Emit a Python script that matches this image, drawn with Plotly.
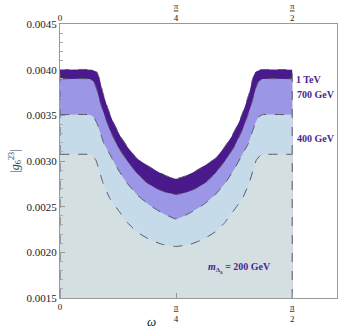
import numpy as np
import plotly.graph_objects as go

# boundary curves (omega in rad, |g6^23|)
omega_1tev = [0, 0.216, 0.249, 0.270, 0.290, 0.324, 0.357, 0.411, 0.465, 0.519, 0.587, 0.654, 0.721, 0.785,
              0.850, 0.917, 0.984, 1.052, 1.106, 1.160, 1.214, 1.247, 1.281, 1.301, 1.322, 1.355, 1.5708]
g_1tev = [0.00400, 0.00400, 0.003974, 0.003888, 0.003749, 0.003577, 0.003438, 0.003266, 0.003137, 0.003030,
          0.002955, 0.002890, 0.002837, 0.002805,
          0.002837, 0.002890, 0.002955, 0.003030, 0.003137, 0.003266, 0.003438, 0.003577, 0.003749, 0.003888,
          0.003974, 0.00400, 0.00400]

omega_700 = [0, 0.202, 0.229, 0.249, 0.276, 0.303, 0.337, 0.391, 0.452, 0.519, 0.587, 0.654, 0.721, 0.785,
             0.850, 0.917, 0.984, 1.052, 1.119, 1.180, 1.234, 1.268, 1.295, 1.322, 1.342, 1.369, 1.5708]
g_700 = [0.003899, 0.003899, 0.003867, 0.003781, 0.003620, 0.003491, 0.003341, 0.003159, 0.003009, 0.002869,
         0.002762, 0.002697, 0.002654, 0.002633,
         0.002654, 0.002697, 0.002762, 0.002869, 0.003009, 0.003159, 0.003341, 0.003491, 0.003620, 0.003781,
         0.003867, 0.003899, 0.003899]

omega_400 = [0, 0.202, 0.229, 0.249, 0.270, 0.297, 0.337, 0.391, 0.452, 0.526, 0.607, 0.694, 0.785,
             0.877, 0.964, 1.045, 1.119, 1.180, 1.234, 1.274, 1.301, 1.322, 1.342, 1.369, 1.5708]
g_400 = [0.003507, 0.003507, 0.003481, 0.003416, 0.003320, 0.003191, 0.003073, 0.002912, 0.002762, 0.002622,
         0.002515, 0.002429, 0.002365,
         0.002429, 0.002515, 0.002622, 0.002762, 0.002912, 0.003073, 0.003191, 0.003320, 0.003416, 0.003481,
         0.003507, 0.003507]

omega_200 = [0, 0.189, 0.216, 0.243, 0.263, 0.290, 0.337, 0.404, 0.458, 0.519, 0.607, 0.694, 0.785,
             0.877, 0.964, 1.052, 1.113, 1.167, 1.234, 1.281, 1.308, 1.328, 1.355, 1.382, 1.5708]
g_200 = [0.003073, 0.003073, 0.003062, 0.003009, 0.002912, 0.002762, 0.002590, 0.002440, 0.002322, 0.002225,
         0.002139, 0.002086, 0.002064,
         0.002086, 0.002139, 0.002225, 0.002322, 0.002440, 0.002590, 0.002762, 0.002912, 0.003009, 0.003062,
         0.003073, 0.003073]

y_ticks = [0.0015, 0.0020, 0.0025, 0.0030, 0.0035, 0.0040, 0.0045]
x_ticks = [0, np.pi / 4, np.pi / 2]
x_labels = ['0', '<u>π</u><br>4', '<u>π</u><br>2']

serif = 'Liberation Serif'
label_col = '#4b1f91'
edge = dict(color='#5a5a66', width=1, dash='dash')
smooth = dict(shape='spline', smoothing=0.3)

fig = go.Figure()

regions = [(omega_1tev, g_1tev, '#4a1a8c'),
           (omega_700, g_700, '#9c96e6'),
           (omega_400, g_400, '#c6dbe9'),
           (omega_200, g_200, '#d4dfe2')]
for om, g, col in regions:
    fig.add_trace(go.Scatter(x=om, y=g, mode='lines', fill='tozeroy', fillcolor=col,
                             line=dict(color=col, width=0, **smooth),
                             showlegend=False, hoverinfo='skip'))

# dashed boundaries
for om, g in [(omega_1tev, g_1tev), (omega_700, g_700), (omega_400, g_400), (omega_200, g_200)]:
    fig.add_trace(go.Scatter(x=om, y=g, mode='lines', line=dict(edge, **smooth),
                             showlegend=False, hoverinfo='skip'))
for xe in [0, np.pi / 2]:
    fig.add_trace(go.Scatter(x=[xe, xe], y=[0.0015, g_1tev[0]], mode='lines', line=edge,
                             showlegend=False, hoverinfo='skip'))

# dummy trace so the top axis shows
fig.add_trace(go.Scatter(x=[0], y=[0.0015], xaxis='x2', mode='markers',
                         marker=dict(opacity=0), showlegend=False, hoverinfo='skip'))

annots = [(1.685, 0.003888, '1 TeV'),
          (1.733, 0.003727, '700 GeV'),
          (1.733, 0.003245, '400 GeV'),
          (1.213, 0.001828, '<i>m</i><sub>Δ<sub>6</sub></sub> = 200 GeV')]
for ax, ay, txt in annots:
    fig.add_annotation(x=ax, y=ay, text='<b>' + txt + '</b>', showarrow=False,
                       font=dict(family=serif, size=10, color=label_col))

# x axis title sits left of centre in the original
fig.add_annotation(x=0.306, y=-0.122, xref='paper', yref='paper', text='<i>ω</i>',
                   showarrow=False, font=dict(family=serif, size=13, color='#222222'))

axis_common = dict(showgrid=False, zeroline=False, showline=True, linecolor='#999999',
                   mirror=True, ticks='inside', tickcolor='#999999', ticklen=5,
                   tickfont=dict(family=serif, size=11, color='#222222'))

fig.update_layout(
    width=339, height=332,
    margin=dict(l=60, r=1, t=18, b=34),
    plot_bgcolor='white', paper_bgcolor='white',
    xaxis=dict(axis_common, range=[0, 1.874], tickvals=x_ticks, ticktext=x_labels,
               tickfont=dict(family=serif, size=9, color='#222222')),
    xaxis2=dict(range=[0, 1.874], overlaying='x', side='top', tickvals=x_ticks, ticktext=x_labels,
                showgrid=False, zeroline=False, ticks='', showline=False,
                tickfont=dict(family=serif, size=9, color='#222222')),
    yaxis=dict(axis_common, range=[0.0015, 0.0045], tickvals=y_ticks, tickformat='.4f',
               minor=dict(ticks='inside', ticklen=3, tickcolor='#aaaaaa', dtick=0.0001),
               title=dict(text='|<i>g</i><sub>6</sub><sup>23</sup>|', font=dict(family=serif, size=12),
                          standoff=4)),
)

fig.write_html("out.html", config={'displayModeBar': False},
               post_script="document.body.style.margin='0';document.body.style.overflow='hidden';")
